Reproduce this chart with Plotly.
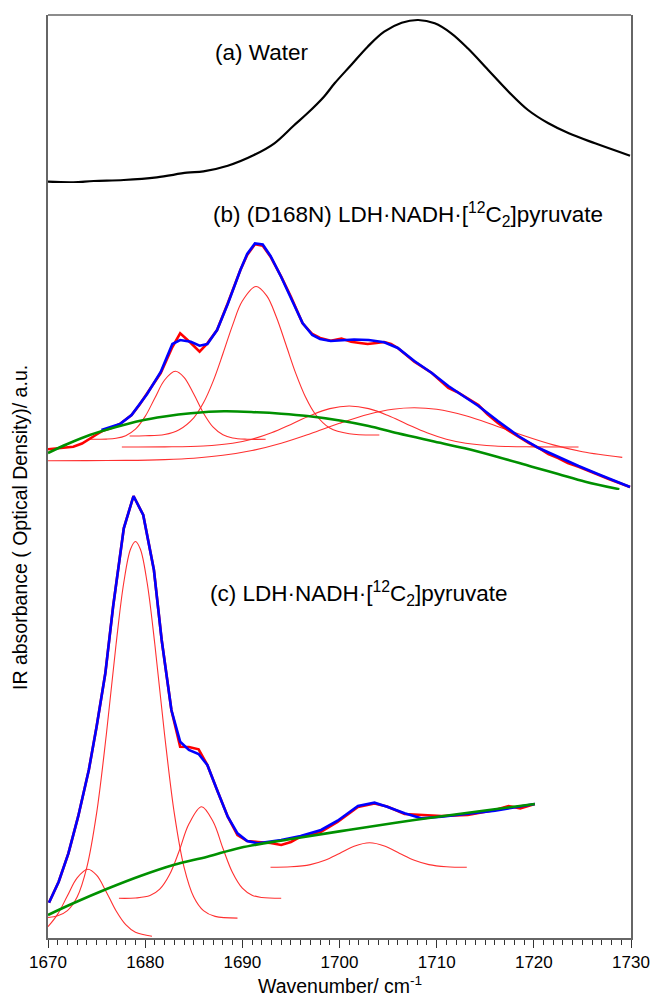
import plotly.graph_objects as go

# ---------------- Panel (a): water ----------------
water_x = [1670.0, 1672.6, 1674.7, 1677.8, 1681.2, 1684.3, 1686.0, 1688.5, 1691.2, 1693.3,
           1695.3, 1696.7, 1698.4, 1699.5, 1701.2, 1702.9, 1704.6, 1706.4, 1708.1, 1709.8,
           1711.5, 1713.2, 1715.3, 1717.4, 1719.4, 1721.5, 1723.6, 1726.3, 1729.9]
water_y = [1.3, 0.7, 2.0, 3.0, 5.7, 10.3, 11.7, 17.3, 28.0, 39.7,
           57.5, 69.7, 86.3, 99.7, 118.0, 136.3, 151.3, 160.3, 163.0, 159.7,
           149.7, 134.7, 113.0, 91.3, 73.0, 59.7, 49.7, 39.7, 27.3]

# ---------------- Panel (b): (D168N) LDH·NADH·pyruvate ----------------
b_data_x = [1670.0, 1671.0, 1672.6, 1673.5, 1674.2, 1675.0, 1675.7, 1676.5, 1677.4, 1678.6,
            1679.4, 1680.2, 1681.6, 1682.8, 1683.6, 1684.7, 1685.6, 1686.4, 1687.4, 1688.5,
            1689.8, 1690.5, 1691.3, 1692.1, 1692.9, 1694.0, 1695.0, 1696.2, 1697.2, 1698.0,
            1699.1, 1700.2, 1701.2, 1702.1, 1702.9, 1703.8, 1704.6, 1705.3, 1706.0, 1707.7,
            1709.5, 1710.3, 1711.2, 1712.1, 1712.9, 1714.3, 1715.2, 1716.3, 1717.3, 1718.4,
            1719.5, 1720.5, 1721.5, 1722.5, 1723.5, 1724.6, 1725.6, 1726.7, 1727.7, 1728.7, 1729.9]
b_data_y = [40.7, 41.7, 43.3, 46.5, 51.0, 55.5, 59.5, 62.0, 66.0, 75.0,
            85.0, 97.0, 117.0, 143.0, 156.7, 147.0, 138.3, 146.7, 160.0, 186.7,
            220.0, 235.0, 245.7, 244.3, 233.3, 213.3, 193.3, 166.7, 156.0, 152.0,
            149.3, 151.5, 148.3, 147.0, 146.0, 147.0, 148.0, 146.0, 142.0, 128.3,
            117.0, 110.0, 102.0, 98.0, 93.3, 85.0, 76.0, 67.0, 60.0, 53.3,
            47.0, 42.0, 36.0, 32.0, 27.0, 23.3, 19.0, 15.0, 11.0, 7.0, 3.0]

b_fit_x = [1675.5, 1676.5, 1677.4, 1678.6, 1679.4, 1680.2, 1681.6, 1682.8, 1683.6, 1684.7,
           1685.6, 1686.4, 1687.4, 1688.5, 1689.8, 1690.5, 1691.3, 1692.1, 1692.9, 1694.0,
           1695.0, 1696.2, 1697.2, 1698.0, 1699.1, 1700.2, 1701.5, 1703.0, 1704.6, 1706.0,
           1707.7, 1709.5, 1711.2, 1712.9, 1714.3, 1716.3, 1718.4, 1720.5, 1722.5, 1724.6,
           1726.7, 1728.7, 1729.9]
b_fit_y = [60.0, 63.0, 66.0, 75.0, 85.0, 96.0, 118.0, 146.0, 150.0, 148.3,
           144.3, 146.0, 160.0, 186.0, 220.0, 236.0, 246.5, 245.5, 234.0, 213.0,
           192.0, 167.0, 155.0, 151.0, 149.0, 150.0, 150.5, 150.0, 147.7, 142.0,
           129.0, 117.0, 104.0, 93.0, 84.0, 69.0, 54.0, 42.0, 33.0, 24.0,
           15.5, 7.5, 3.0]

b_base_x = [1670.0, 1672.0, 1674.3, 1677.0, 1679.5, 1682.0, 1684.7, 1688.1, 1691.5, 1694.0,
            1696.7, 1700.2, 1703.0, 1706.0, 1709.5, 1712.9, 1716.3, 1719.8, 1722.5, 1725.3, 1728.8]
b_base_y = [37.0, 46.0, 55.0, 63.0, 69.3, 73.5, 76.7, 78.7, 77.7, 76.3,
            74.0, 69.3, 64.0, 56.7, 49.0, 41.7, 33.0, 23.3, 16.0, 8.3, 0.8]

b_band1_x = [1674.3, 1676.0, 1677.0, 1678.0, 1679.0, 1680.0, 1681.0, 1682.0, 1683.1, 1684.0,
             1685.0, 1686.0, 1687.0, 1688.0, 1689.0, 1690.5, 1692.4]
b_band1_y = [50.7, 50.9, 51.7, 54.3, 60.8, 73.6, 92.0, 110.0, 118.7, 112.7,
             95.9, 76.9, 62.8, 55.2, 52.0, 50.8, 50.7]

b_band2_x = [1678.4, 1680.0, 1682.0, 1683.5, 1685.0, 1686.0, 1687.0, 1688.0, 1689.0, 1690.0,
             1691.4, 1692.5, 1693.5, 1694.5, 1695.5, 1696.5, 1697.5, 1699.0, 1701.0, 1704.1]
b_band2_y = [54.0, 54.2, 55.5, 60.3, 72.2, 87.2, 108.9, 136.2, 164.9, 189.0,
             203.5, 194.4, 173.0, 145.0, 116.6, 93.0, 76.0, 61.9, 56.2, 55.0]

b_band3_x = [1677.6, 1682.0, 1686.0, 1689.0, 1691.0, 1693.0, 1695.0, 1697.0, 1699.0, 1701.0,
             1703.0, 1705.0, 1707.0, 1709.0, 1711.0, 1713.0, 1716.0, 1720.0, 1724.6]
b_band3_y = [43.0, 43.1, 44.0, 46.8, 50.8, 57.2, 65.6, 74.5, 81.4, 84.0,
             81.4, 74.5, 65.6, 57.2, 50.8, 46.8, 44.0, 43.1, 43.0]

b_band4_x = [1670.0, 1674.0, 1678.0, 1682.0, 1685.0, 1688.0, 1691.0, 1694.0, 1697.0, 1700.0,
             1703.0, 1705.5, 1707.7, 1710.0, 1713.0, 1716.0, 1719.0, 1722.0, 1725.0, 1729.1]
b_band4_y = [29.3, 29.4, 29.6, 30.4, 31.8, 34.7, 39.5, 46.8, 56.3, 66.7,
             75.8, 80.8, 82.3, 80.7, 74.2, 64.6, 54.2, 45.1, 38.3, 32.6]

# ---------------- Panel (c): LDH·NADH·pyruvate ----------------
c_fit_x = [1670.1, 1671.1, 1672.1, 1673.1, 1674.2, 1675.0, 1675.9, 1676.7, 1677.8, 1678.8,
           1679.8, 1680.9, 1681.7, 1682.7, 1683.6, 1684.5, 1685.5, 1686.4, 1687.4, 1688.5,
           1689.5, 1690.5, 1691.6, 1692.9, 1694.0, 1696.0, 1698.1, 1699.8, 1701.9, 1703.6,
           1704.9, 1706.7, 1708.4, 1710.5, 1713.2, 1716.0, 1718.1, 1720.1]
c_fit_y = [32.3, 53.3, 81.7, 118.3, 165.0, 208.3, 261.7, 328.3, 406.7, 439.0,
           420.0, 365.0, 295.0, 225.0, 193.3, 185.0, 181.0, 170.0, 145.0, 118.3,
           101.7, 94.0, 91.7, 93.3, 95.0, 99.0, 105.0, 114.3, 129.0, 132.3,
           128.3, 121.7, 116.7, 118.3, 121.0, 124.3, 127.7, 131.0]

c_data_x = [1670.1, 1671.1, 1672.1, 1673.1, 1674.2, 1675.0, 1675.9, 1676.7, 1677.8, 1678.8,
            1679.8, 1680.9, 1681.7, 1682.7, 1683.6, 1684.5, 1685.5, 1686.4, 1687.4, 1688.5,
            1689.5, 1690.5, 1691.6, 1692.9, 1694.0, 1695.0, 1696.0, 1698.1, 1699.8, 1701.9,
            1703.6, 1704.9, 1706.7, 1708.4, 1710.5, 1713.2, 1714.7, 1716.0, 1717.4, 1718.6, 1720.1]
c_data_y = [32.3, 53.3, 81.7, 118.3, 165.0, 208.3, 261.7, 328.3, 406.7, 439.0,
            420.0, 365.0, 295.0, 225.0, 188.3, 188.0, 185.7, 170.0, 145.0, 118.3,
            100.0, 94.0, 93.0, 92.0, 90.0, 93.0, 98.3, 103.3, 113.0, 128.0,
            131.5, 128.5, 121.0, 120.0, 119.0, 120.0, 122.3, 125.0, 129.0, 126.7, 131.0]

c_base_x = [1670.0, 1672.6, 1676.1, 1679.5, 1682.9, 1686.4, 1689.8, 1694.7, 1700.9, 1707.7, 1714.6, 1720.1]
c_base_y = [20.0, 31.7, 46.2, 59.0, 70.0, 78.3, 87.3, 95.5, 105.0, 115.0, 124.0, 131.0]

c_band1_x = [1670.0, 1671.0, 1672.0, 1673.0, 1674.1, 1675.0, 1676.0, 1677.0, 1678.0, 1679.0, 1680.7]
c_band1_y = [8.3, 20.9, 39.2, 57.1, 65.7, 59.8, 43.1, 24.2, 10.3, 2.7, -1.2]

c_band2_x = [1670.0, 1671.0, 1672.0, 1673.0, 1674.0, 1675.0, 1676.0, 1677.0, 1677.8, 1678.5,
             1679.0, 1679.5, 1680.2, 1681.0, 1682.0, 1683.0, 1684.0, 1685.0, 1686.0, 1687.2, 1689.5]
c_band2_y = [17.5, 19.2, 24.4, 38.0, 67.9, 121.6, 200.3, 290.3, 352.5, 386.0,
             393.5, 386.0, 352.5, 290.3, 200.3, 121.6, 67.9, 38.0, 24.4, 18.6, 16.9]

c_band3_x = [1677.3, 1679.0, 1680.5, 1681.5, 1682.5, 1683.5, 1684.5, 1685.8, 1687.0, 1688.0,
             1689.0, 1690.0, 1691.0, 1692.0, 1694.0]
c_band3_y = [36.7, 37.0, 39.4, 45.8, 60.2, 84.0, 110.9, 128.3, 113.2, 86.7,
             62.2, 46.8, 39.8, 37.5, 36.7]

c_band4_x = [1692.9, 1695.0, 1697.0, 1698.5, 1700.0, 1701.5, 1703.1, 1704.7, 1706.2, 1707.7,
             1709.2, 1711.0, 1713.1]
c_band4_y = [67.7, 68.2, 70.4, 74.7, 81.6, 88.8, 92.3, 88.8, 81.6, 74.7,
             70.4, 68.3, 67.7]

# ---------------- Labels ----------------
x_ticks = [1670, 1680, 1690, 1700, 1710, 1720, 1730]
label_a = "(a) Water"
label_b = "(b) (D168N) LDH\u00b7NADH\u00b7[<sup>12</sup>C<sub>2</sub>]pyruvate"
label_c = "(c) LDH\u00b7NADH\u00b7[<sup>12</sup>C<sub>2</sub>]pyruvate"
x_title = "Wavenumber/ cm<sup>-1</sup>"
y_title = "IR absorbance ( Optical Density)/ a.u."

FONT = "Liberation Sans, Arial, sans-serif"
RED = "#ff0000"
COMP = "#ff3030"
BLUE = "#0000ff"
GREEN = "#009000"

fig = go.Figure()


def add(x, y, yaxis, color, width, shape="linear"):
    fig.add_trace(go.Scatter(x=x, y=y, xaxis="x", yaxis=yaxis, mode="lines",
                             line=dict(color=color, width=width, shape=shape),
                             showlegend=False, hoverinfo="skip"))


# panel a
add(water_x, water_y, "y3", "#000000", 2.2, "spline")

# panel b
for bx, by in [(b_band1_x, b_band1_y), (b_band2_x, b_band2_y),
               (b_band3_x, b_band3_y), (b_band4_x, b_band4_y)]:
    add(bx, by, "y2", COMP, 1.1, "spline")
add(b_data_x, b_data_y, "y2", RED, 2.6)
add(b_fit_x, b_fit_y, "y2", BLUE, 2.6)
add(b_base_x, b_base_y, "y2", GREEN, 2.6, "spline")

# panel c
for cx, cy in [(c_band1_x, c_band1_y), (c_band2_x, c_band2_y),
               (c_band3_x, c_band3_y), (c_band4_x, c_band4_y)]:
    add(cx, cy, "y", COMP, 1.1, "spline")
add(c_data_x, c_data_y, "y", RED, 2.6)
add(c_fit_x, c_fit_y, "y", BLUE, 2.6)
add(c_base_x, c_base_y, "y", GREEN, 2.6, "spline")

W, H = 651, 999
ML, MR, MT, MB = 48, 20, 15, 61
PH = H - MT - MB
PW = W - ML - MR


def py2paper(py):
    return (H - MB - py) / PH


def px2paper(px):
    return (px - ML) / PW


d_cb = py2paper(490)
d_ba = py2paper(183)

frame = dict(showline=True, linecolor="#666666", linewidth=1.5, mirror=True,
             showticklabels=False, ticks="", showgrid=False, zeroline=False,
             automargin=False)

fig.update_layout(
    width=W, height=H,
    margin=dict(l=ML, r=MR, t=MT, b=MB, autoexpand=False),
    plot_bgcolor="white", paper_bgcolor="white",
    font=dict(family=FONT, color="black"),
    xaxis=dict(range=[1670, 1730], domain=[0, 1], anchor="y", automargin=False,
               showline=True, linecolor="#666666", linewidth=1.5,
               tickmode="array", tickvals=x_ticks, ticktext=[str(t) for t in x_ticks],
               ticks="outside", ticklen=8, tickwidth=1.2, tickcolor="#333333",
               minor=dict(dtick=1, tick0=1670, ticks="outside", ticklen=5,
                          tickwidth=1, tickcolor="#333333"),
               tickfont=dict(size=17, family=FONT, color="black"),
               showgrid=False, zeroline=False),
    yaxis=dict(domain=[0, d_cb], range=[-3, 445], anchor="x", **frame),
    yaxis2=dict(domain=[d_cb, d_ba], range=[0, 307], anchor="x", **frame),
    yaxis3=dict(domain=[d_ba, 1], range=[0, 168], anchor="x", **frame),
    shapes=[dict(type="line", xref="paper", yref="paper", x0=0, x1=1, y0=1, y1=1,
                 line=dict(color="#666666", width=1.5))],
    annotations=[
        dict(text=label_a, xref="paper", yref="paper", x=px2paper(261.5), y=py2paper(52),
             xanchor="center", yanchor="middle", showarrow=False, font=dict(size=22.5, family=FONT)),
        dict(text=label_b, xref="paper", yref="paper", x=px2paper(211), y=py2paper(215),
             xanchor="left", yanchor="middle", showarrow=False, font=dict(size=22.5, family=FONT)),
        dict(text=label_c, xref="paper", yref="paper", x=px2paper(208), y=py2paper(593),
             xanchor="left", yanchor="middle", showarrow=False, font=dict(size=22.5, family=FONT)),
        dict(text=x_title, xref="paper", yref="paper", x=px2paper(340), y=py2paper(985),
             xanchor="center", yanchor="middle", showarrow=False, font=dict(size=19.5, family=FONT)),
        dict(text=y_title, xref="paper", yref="paper", x=px2paper(20), y=py2paper(528),
             xanchor="center", yanchor="middle", textangle=-90, showarrow=False,
             font=dict(size=19.5, family=FONT)),
    ],
)

fig.write_html("out.html", config={"displayModeBar": False},
               post_script="document.body.style.margin='0';document.body.style.overflow='hidden';")
